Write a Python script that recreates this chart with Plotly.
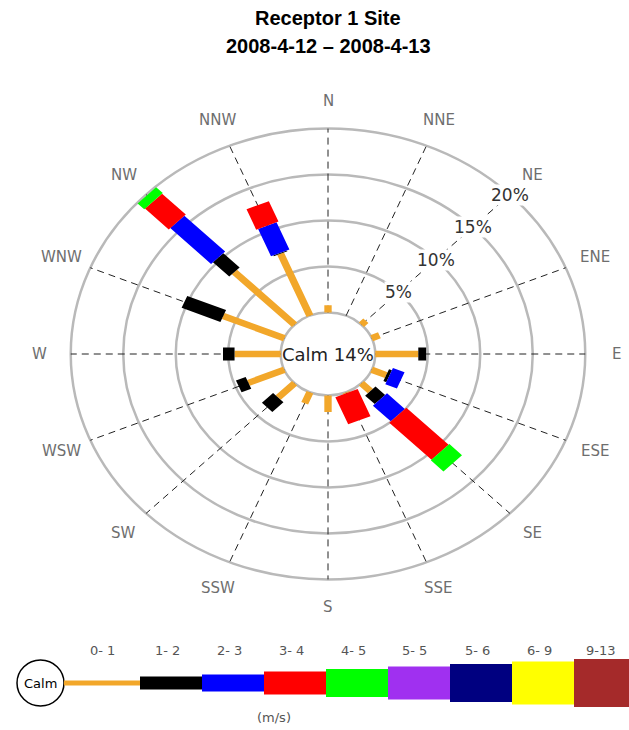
import numpy as np
import plotly.graph_objects as go

# ---- data -------------------------------------------------------------
directions = ["N", "NNE", "NE", "ENE", "E", "ESE", "SE", "SSE",
              "S", "SSW", "SW", "WSW", "W", "WNW", "NW", "NNW"]
speed_bins = ["0- 1", "1- 2", "2- 3", "3- 4", "4- 5", "5- 5", "5- 6", "6- 9", "9-13"]
bin_colors = ["#f2a72a", "#000000", "#0000ff", "#ff0000", "#00ff00",
              "#a030f0", "#000080", "#ffff00", "#a52a2a"]

# frequency (%) per direction, one list per speed class
freq_0_1 = [0.8, 0.0, 0.6, 0.8, 4.1, 1.5, 1.2, 0.1, 1.8, 1.3, 2.2, 3.7, 4.4, 6.3, 8.1, 7.3]
freq_1_2 = [0.0, 0.0, 0.0, 0.0, 0.75, 0.3, 1.3, 0.0, 0.0, 0.0, 1.5, 1.0, 1.1, 4.0, 2.2, 0.1]
freq_2_3 = [0.0, 0.0, 0.0, 0.0, 0.0, 1.2, 2.4, 0.0, 0.0, 0.0, 0.0, 0.0, 0.0, 0.0, 5.5, 3.2]
freq_3_4 = [0.0, 0.0, 0.0, 0.0, 0.0, 0.0, 5.7, 3.2, 0.0, 0.0, 0.0, 0.0, 0.0, 0.0, 3.2, 2.4]
freq_4_5 = [0.0, 0.0, 0.0, 0.0, 0.0, 0.0, 1.7, 0.0, 0.0, 0.0, 0.0, 0.0, 0.0, 0.0, 0.9, 0.0]
freq_5_5 = [0.0] * 16
freq_5_6 = [0.0] * 16
freq_6_9 = [0.0] * 16
freq_9_13 = [0.0] * 16
calm_pct = 14
ring_pcts = [5, 10, 15, 20]

# ---- geometry ---------------------------------------------------------
W, H = 629, 730
CX, CY = 328, 354          # rose centre in pixels
SX, SY = 10.5, 9.2         # pixels per percent (image is stretched horizontally)
CALM_R = 4.5               # calm circle radius in percent units
bar_w = [0.7, 1.4, 1.9, 2.3, 2.5, 2.9, 3.3, 3.7, 4.1]
leg_h = [5, 13, 17, 23, 28, 33, 38, 43, 48]

series = [freq_0_1, freq_1_2, freq_2_3, freq_3_4, freq_4_5,
          freq_5_5, freq_5_6, freq_6_9, freq_9_13]
ang = np.radians(np.arange(16) * 22.5)
dx, dy = np.sin(ang), np.cos(ang)


def px(x):
    return x / W


def py(y):
    return 1 - y / H


fig = go.Figure()

# stacked bars as filled polygons
cum = np.zeros(16)
for k, vals in enumerate(series):
    vals = np.array(vals)
    xs, ys = [], []
    for i in range(16):
        if vals[i] <= 0:
            continue
        r0 = CALM_R + cum[i]
        r1 = r0 + vals[i]
        h = bar_w[k] / 2
        pxv, pyv = dy[i], -dx[i]
        pts = [(r0 * dx[i] + h * pxv, r0 * dy[i] + h * pyv),
               (r1 * dx[i] + h * pxv, r1 * dy[i] + h * pyv),
               (r1 * dx[i] - h * pxv, r1 * dy[i] - h * pyv),
               (r0 * dx[i] - h * pxv, r0 * dy[i] - h * pyv),
               (r0 * dx[i] + h * pxv, r0 * dy[i] + h * pyv)]
        xs += [p[0] for p in pts] + [None]
        ys += [p[1] for p in pts] + [None]
    cum += vals
    if xs:
        fig.add_trace(go.Scatter(x=xs, y=ys, mode="lines", fill="toself",
                                 fillcolor=bin_colors[k], line=dict(width=0),
                                 name=speed_bins[k], hoverinfo="skip"))

shapes = []
# rings
for r in [CALM_R] + [CALM_R + p for p in ring_pcts]:
    shapes.append(dict(type="circle", xref="x", yref="y", x0=-r, x1=r, y0=-r, y1=r,
                       line=dict(color="#b9b9b9", width=2.5), layer="below"))
# spokes
rmax = CALM_R + ring_pcts[-1]
for i in range(16):
    shapes.append(dict(type="line", xref="x", yref="y",
                       x0=CALM_R * dx[i], y0=CALM_R * dy[i],
                       x1=rmax * dx[i], y1=rmax * dy[i],
                       line=dict(color="#222222", width=1, dash="7px,5px"), layer="below"))

ann = []
for i, d in enumerate(directions):
    ann.append(dict(x=27.5 * dx[i], y=27.5 * dy[i], xref="x", yref="y", text=d,
                    showarrow=False, xanchor="center", yanchor="middle",
                    font=dict(family="DejaVu Sans", size=15, color="#6e6e6e")))
ne = np.radians(45)
for p in ring_pcts:
    r = CALM_R + p
    ann.append(dict(x=r * np.sin(ne), y=r * np.cos(ne), xref="x", yref="y", text=f"{p}%",
                    showarrow=False, bgcolor="white", borderpad=0,
                    xanchor="center", yanchor="middle",
                    font=dict(family="DejaVu Sans", size=17, color="#333333")))
ann.append(dict(x=0, y=0, xref="x", yref="y", text=f"Calm {calm_pct}%", showarrow=False,
                xanchor="center", yanchor="middle",
                font=dict(family="DejaVu Sans", size=18, color="#222222")))

# title
title_lines = ["Receptor 1 Site", "2008-4-12 – 2008-4-13"]
for j, t in enumerate(title_lines):
    ann.append(dict(x=px(328), y=py(18 + 28 * j), xref="paper", yref="paper",
                    text=f"<b>{t}</b>", showarrow=False, xanchor="center", yanchor="middle",
                    font=dict(family="Liberation Sans", size=20, color="black")))

# key at the bottom
ly = 683
shapes.append(dict(type="circle", xref="paper", yref="paper",
                   x0=px(17), x1=px(64), y0=py(706), y1=py(660),
                   line=dict(color="black", width=1.5)))
ann.append(dict(x=px(40.5), y=py(683), xref="paper", yref="paper", text="Calm", showarrow=False,
                xanchor="center", yanchor="middle",
                font=dict(family="DejaVu Sans", size=13, color="black")))
seg_len = 62
seg_edges = [64] + [140 + k * seg_len for k in range(9)]
for k, lab in enumerate(speed_bins):
    x0 = seg_edges[k]
    x1 = min(seg_edges[k + 1], W)
    shapes.append(dict(type="rect", xref="paper", yref="paper",
                       x0=px(x0), x1=px(x1), y0=py(ly + leg_h[k] / 2), y1=py(ly - leg_h[k] / 2),
                       fillcolor=bin_colors[k], line=dict(width=0)))
    lx = 102 if k == 0 else 140 + (k - 1) * seg_len + 27
    ann.append(dict(x=px(lx), y=py(650), xref="paper", yref="paper", text=lab,
                    showarrow=False, xanchor="center", yanchor="middle",
                    font=dict(family="DejaVu Sans", size=13, color="#555555")))
ann.append(dict(x=px(274), y=py(717), xref="paper", yref="paper", text="(m/s)", showarrow=False,
                xanchor="center", yanchor="middle",
                font=dict(family="DejaVu Sans", size=13, color="#555555")))

fig.update_layout(
    width=W, height=H,
    margin=dict(l=0, r=0, t=0, b=0),
    paper_bgcolor="white", plot_bgcolor="white",
    showlegend=False,
    shapes=shapes, annotations=ann,
    xaxis=dict(range=[-CX / SX, (W - CX) / SX], visible=False, fixedrange=True),
    yaxis=dict(range=[-(H - CY) / SY, CY / SY], visible=False, fixedrange=True),
)

fig.write_html("out.html", config={"displayModeBar": False},
               post_script="document.body.style.margin='0';")
